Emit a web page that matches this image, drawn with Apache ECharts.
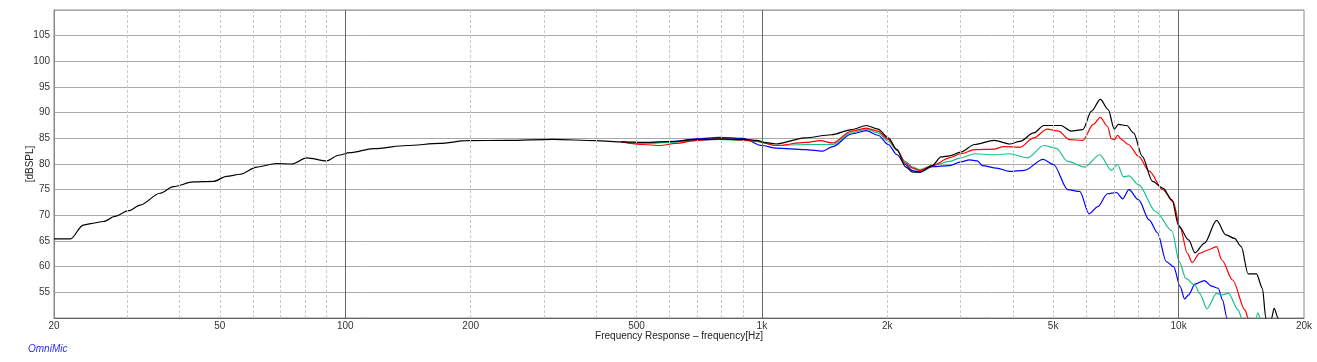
<!DOCTYPE html>
<html>
<head>
<meta charset="utf-8">
<script src="https://cdn.jsdelivr.net/npm/echarts@6/dist/echarts.min.js"></script>
<style>
html,body{margin:0;padding:0;background:#fff;}
#chart{width:1317px;height:362px;}
</style>
</head>
<body>
<div id="chart"></div>
<script>
// ---- data (frequency in Hz, level in dB SPL) ----
const blackHz = [20,21.9,23.5,24.5,26.3,28,30.2,32.2,35.9,38.7,43.2,48.3,51.9,55.9,61.3,68.4,74.4,80.8,90.3,96.3,102.6,116.8,140.6,168.6,195.6,244,316,400,464,520,612,708,790,905,975,1010,1082,1270,1470,1642,1780,1900,2010,2110,2208,2300,2390,2566,2690,2820,3000,3240,3610,3930,4160,4490,4750,5220,5520,5890,6180,6490,6780,7010,7170,7510,7800,8180,8660,9170,9640,10000,10570,10950,11540,12340,12990,13620,14140,14680,15380,15890,16200,16450,16550,16720,16960,17330,17550];
const blackDb = [65.4,65.4,68.1,68.4,68.8,69.8,70.9,72.0,74.3,75.6,76.5,76.6,77.6,78.0,79.4,80.1,80.0,81.2,80.6,81.7,82.2,83.0,83.6,84.0,84.55,84.6,84.8,84.55,84.3,84.2,84.4,84.8,84.9,84.8,84.6,84.2,83.9,85.1,85.7,86.7,87.5,86.8,85.1,82.8,79.5,78.4,78.4,79.7,81.4,81.6,82.3,83.8,84.6,83.9,84.4,86.05,87.5,87.5,86.4,86.7,90.3,92.6,90.6,86.8,87.7,87.5,86.05,81.5,76.6,75.3,73.0,68.0,65.2,62.7,64.6,69.0,66.2,65.5,63.9,58.6,58.6,55.8,50.0,46.0,46.0,50.0,51.9,50.0,47.0];

const redHz = [460,520,570,620,700,790,900,975,1082,1270,1380,1480,1640,1780,1900,2010,2110,2208,2300,2390,2566,2820,3000,3240,3610,3800,4160,4490,4840,5150,5470,5890,6240,6490,6750,6900,7010,7140,7300,7580,8020,8500,9170,9700,10090,10500,10780,11220,11760,12340,12700,13480,14440,14680,15000];
const redDb = [84.3,83.8,83.6,84.0,84.6,84.9,84.7,84.4,83.6,84.2,84.55,84.1,86.4,87.0,86.4,84.8,82.8,80.2,79.2,78.7,79.7,81.2,82.0,82.8,82.9,83.4,83.25,85.1,86.8,86.4,84.75,84.6,87.7,89.1,87.35,84.9,84.75,85.6,84.75,83.8,81.5,78.6,75.0,72.7,67.5,62.6,60.8,62.6,63.25,63.9,61.3,57.4,51.55,50.0,47.0];

const greenHz = [460,520,600,700,790,900,975,1082,1270,1480,1640,1780,1900,2010,2110,2208,2300,2390,2566,2820,3000,3240,3610,3930,4340,4750,5080,5420,5950,6470,6900,7140,7370,7600,8020,8820,9640,10040,10410,10950,11230,11700,12340,12700,13170,13910,14170,14400,15150,15490,15700,16000];
const greenDb = [84.3,84.0,84.2,84.6,84.8,84.6,84.4,83.6,83.8,83.8,86.05,86.8,86.05,84.4,82.6,80.5,79.4,78.9,79.7,80.5,81.2,82.0,81.8,82.0,81.2,83.6,83.1,80.5,79.4,81.8,78.75,79.9,77.5,77.7,75.95,70.7,67.0,61.0,57.7,56.4,54.8,51.8,54.8,54.5,54.8,51.55,50.0,47.0,47.0,51.0,50.0,47.0];

const blueHz = [460,520,600,700,790,900,1000,1082,1270,1400,1480,1640,1780,1900,2010,2110,2208,2300,2390,2566,2820,3000,3150,3290,3380,3660,3930,4264,4730,5010,5420,5790,6100,6400,6750,7100,7340,7600,8020,8500,8900,9340,9730,10090,10340,10570,10950,11540,12000,12450,12750,13070,13300];
const blueDb = [84.3,84.0,84.3,84.9,85.2,85.0,83.6,83.1,82.8,82.5,83.4,85.85,86.5,85.6,83.8,81.8,79.9,78.7,78.4,79.5,79.7,80.4,80.8,80.6,79.7,79.2,78.55,78.75,80.9,79.9,75.0,74.65,70.3,71.7,74.2,74.45,73.2,75.0,73.0,69.1,66.6,61.0,60.0,56.1,53.7,54.5,56.6,57.3,56.2,55.8,53.5,50.0,47.0];

const xTickLabels = [20,50,100,200,500,1000,2000,5000,10000,20000];
const majorGridHz = [100,1000,10000];
const minorGridHz = [30,40,50,60,70,80,90,200,300,400,500,600,700,800,900,2000,3000,4000,5000,6000,7000,8000,9000];
const yAxisTitle = '[dBSPL]';
const xAxisTitle = 'Frequency Response \u2013 frequency[Hz]';
const brandText = 'OmniMic';

function pairs(hz, db){ return hz.map((f,i)=>[f, db[i]]); }

const FONT = '"Liberation Sans", Arial, sans-serif';

const chart = echarts.init(document.getElementById('chart'), null, {renderer:'canvas'});
const lineCommon = {type: 'line', symbol: 'none', smooth: 0.3, smoothMonotone: 'x', z: 3};
const option = {
  animation: false,
  backgroundColor: '#fff',
  grid: {left: 54, right: 13, top: 10, bottom: 44, show: true, borderColor: '#888', borderWidth: 1, backgroundColor: 'transparent'},
  xAxis: {
    type: 'log', logBase: 10, min: 20, max: 20000,
    name: xAxisTitle, nameLocation: 'middle', nameGap: 13, nameMoveOverlap: false,
    nameTextStyle: {fontFamily: FONT, fontSize: 10, color: '#222', verticalAlign: 'top'},
    axisLine: {show: true, lineStyle: {color: '#666', width: 1}},
    axisTick: {show: false},
    splitLine: {show: false},
    minorSplitLine: {show: false},
    axisLabel: {
      customValues: xTickLabels,
      margin: 3, fontFamily: FONT, fontSize: 10, color: '#333',
      formatter: v => v >= 1000 ? (v/1000) + 'k' : String(v)
    }
  },
  yAxis: {
    type: 'value', min: 50, max: 110, interval: 5,
    name: yAxisTitle, nameLocation: 'middle', nameGap: 19, nameRotate: 90, nameMoveOverlap: false,
    nameTextStyle: {fontFamily: FONT, fontSize: 10, color: '#222'},
    axisLine: {show: true, lineStyle: {color: '#888'}},
    axisTick: {show: false},
    axisLabel: {showMinLabel: false, showMaxLabel: false, margin: 4, fontFamily: FONT, fontSize: 10, color: '#333'},
    splitLine: {show: true, lineStyle: {color: '#aaa', width: 1}}
  },
  graphic: [{
    type: 'text', left: 28, top: 344,
    style: {text: brandText, fill: '#2a2aff', font: 'italic 10px ' + FONT}
  }],
  series: [
    {
      type: 'line', name: 'grid', data: [[20, 50]], symbol: 'none', silent: true, z: 1,
      lineStyle: {opacity: 0},
      markLine: {
        silent: true, symbol: 'none', label: {show: false}, animation: false,
        data: minorGridHz.map(f => ({xAxis: f, lineStyle: {color: '#c8c8c8', type: [3, 2], width: 1}}))
          .concat(majorGridHz.map(f => ({xAxis: f, lineStyle: {color: '#666', type: 'solid', width: 1}})))
      }
    },
    Object.assign({}, lineCommon, {name: 'blue', data: pairs(blueHz, blueDb), lineStyle: {color: '#0000ff', width: 1.2}}),
    Object.assign({}, lineCommon, {name: 'green', data: pairs(greenHz, greenDb), lineStyle: {color: '#19c08c', width: 1.2}}),
    Object.assign({}, lineCommon, {name: 'red', data: pairs(redHz, redDb), lineStyle: {color: '#ff0000', width: 1.2}}),
    Object.assign({}, lineCommon, {name: 'black', data: pairs(blackHz, blackDb), z: 4, lineStyle: {color: '#000000', width: 1.2}})
  ]
};
chart.setOption(option);
</script>
</body>
</html>
